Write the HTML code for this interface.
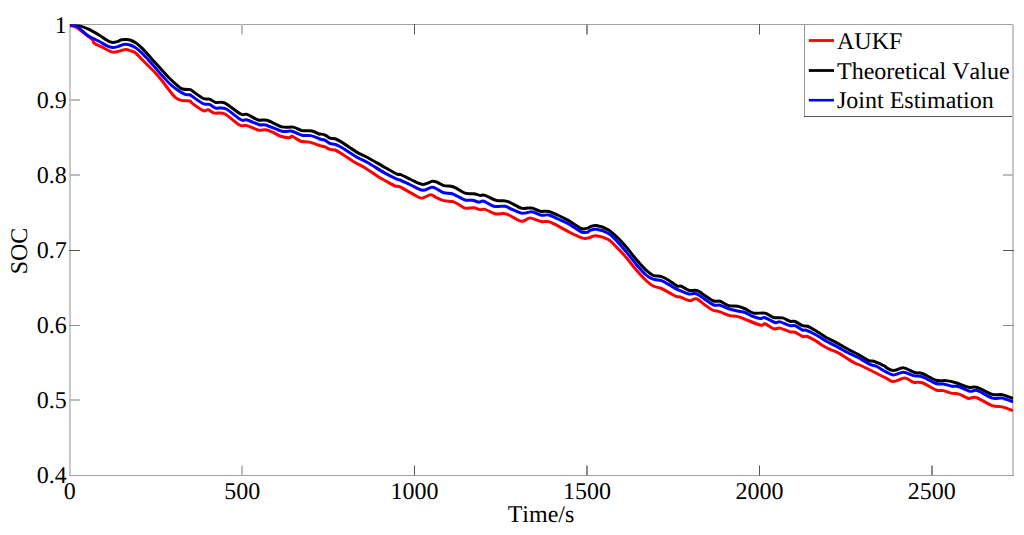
<!DOCTYPE html>
<html><head><meta charset="utf-8"><style>
html,body{margin:0;padding:0;background:#fff;}
body{width:1024px;height:535px;overflow:hidden;}
svg{display:block;}
text{font-family:"Liberation Serif",serif;font-size:24px;fill:#000;font-kerning:none;text-rendering:geometricPrecision;}
</style></head><body>
<svg width="1024" height="535" viewBox="0 0 1024 535">
<rect x="0" y="0" width="1024" height="535" fill="#fff"/>
<!-- axes box -->
<rect x="69" y="24" width="2" height="452" fill="#c8c8c8"/>
<rect x="1012" y="24" width="2" height="452" fill="#c8c8c8"/>
<rect x="69" y="24" width="945" height="1" fill="#a0a0a0"/>
<rect x="69" y="475" width="945" height="1" fill="#a0a0a0"/>
<rect x="241" y="465.5" width="2" height="10" fill="#bcbcbc"/><rect x="241" y="24" width="2" height="10.5" fill="#bcbcbc"/><rect x="414" y="465.5" width="1" height="10" fill="#555"/><rect x="414" y="24" width="1" height="10.5" fill="#555"/><rect x="586" y="465.5" width="2" height="10" fill="#8c8c8c"/><rect x="586" y="24" width="2" height="10.5" fill="#8c8c8c"/><rect x="759" y="465.5" width="1" height="10" fill="#555"/><rect x="759" y="24" width="1" height="10.5" fill="#555"/><rect x="931" y="465.5" width="2" height="10" fill="#8c8c8c"/><rect x="931" y="24" width="2" height="10.5" fill="#8c8c8c"/><rect x="69" y="99" width="11" height="2" fill="#bcbcbc"/><rect x="1003" y="99" width="11" height="2" fill="#bcbcbc"/><rect x="69" y="174" width="11" height="2" fill="#bcbcbc"/><rect x="1003" y="174" width="11" height="2" fill="#bcbcbc"/><rect x="69" y="250" width="11" height="1" fill="#555"/><rect x="1003" y="250" width="11" height="1" fill="#555"/><rect x="69" y="325" width="11" height="1" fill="#8c8c8c"/><rect x="1003" y="325" width="11" height="1" fill="#8c8c8c"/><rect x="69" y="399" width="11" height="2" fill="#bcbcbc"/><rect x="1003" y="399" width="11" height="2" fill="#bcbcbc"/>
<defs><clipPath id="c"><rect x="70" y="24.5" width="943" height="451"/></clipPath></defs>
<g fill="none" stroke-width="3.0" stroke-linejoin="round" stroke-linecap="butt" clip-path="url(#c)">
<path stroke="#ff0000" d="M70.00,25.60C71.08,25.92 73.75,25.93 76.50,27.50C79.25,29.07 83.79,32.92 86.50,35.00C89.21,37.08 91.50,38.67 92.75,40.00C94.00,41.33 92.54,41.85 94.00,43.00C95.46,44.15 98.79,45.52 101.50,46.90C104.21,48.27 107.96,50.38 110.25,51.25C112.54,52.12 112.75,52.38 115.25,52.10C117.75,51.83 122.79,49.85 125.25,49.60C127.71,49.35 128.38,50.14 130.00,50.62C131.62,51.11 132.92,50.94 135.00,52.50C137.08,54.06 140.21,57.71 142.50,60.00C144.79,62.29 146.67,64.17 148.75,66.25C150.83,68.33 152.71,70.00 155.00,72.50C157.29,75.00 160.00,78.12 162.50,81.25C165.00,84.38 167.71,88.44 170.00,91.25C172.29,94.06 174.17,96.56 176.25,98.12C178.33,99.69 180.21,100.15 182.50,100.62C184.79,101.10 188.42,100.58 190.00,101.00C191.58,101.42 189.79,101.52 192.00,103.12C194.21,104.73 200.54,109.52 203.25,110.62C205.96,111.73 206.38,109.33 208.25,109.75C210.12,110.17 211.79,112.46 214.50,113.12C217.21,113.79 220.33,111.77 224.50,113.75C228.67,115.73 235.75,123.02 239.50,125.00C243.25,126.98 243.88,124.79 247.00,125.62C250.12,126.46 255.12,129.31 258.25,130.00C261.38,130.69 263.25,129.33 265.75,129.75C268.25,130.17 270.75,131.42 273.25,132.50C275.75,133.58 278.04,135.38 280.75,136.25C283.46,137.12 287.62,137.75 289.50,137.75C291.38,137.75 290.12,135.67 292.00,136.25C293.88,136.83 297.83,140.27 300.75,141.25C303.67,142.23 306.58,141.50 309.50,142.12C312.42,142.75 316.50,144.42 318.25,145.00C320.00,145.58 318.88,145.31 320.00,145.62C321.12,145.94 323.33,146.25 325.00,146.88C326.67,147.50 328.33,148.85 330.00,149.38C331.67,149.90 333.12,149.31 335.00,150.00C336.88,150.69 337.92,151.42 341.25,153.50C344.58,155.58 351.67,160.48 355.00,162.50C358.33,164.52 359.17,164.48 361.25,165.62C363.33,166.77 364.79,167.60 367.50,169.38C370.21,171.15 374.38,174.27 377.50,176.25C380.62,178.23 383.33,179.62 386.25,181.25C389.17,182.88 392.71,185.06 395.00,186.00C397.29,186.94 397.29,185.69 400.00,186.88C402.71,188.06 407.71,191.25 411.25,193.12C414.79,195.00 418.02,197.85 421.25,198.12C424.48,198.40 428.12,194.85 430.62,194.75C433.12,194.65 434.06,196.52 436.25,197.50C438.44,198.48 441.04,199.96 443.75,200.62C446.46,201.29 450.21,200.98 452.50,201.50C454.79,202.02 455.42,202.65 457.50,203.75C459.58,204.85 462.29,207.46 465.00,208.12C467.71,208.79 471.25,207.50 473.75,207.75C476.25,208.00 478.12,209.35 480.00,209.62C481.88,209.90 482.50,208.69 485.00,209.38C487.50,210.06 491.88,213.06 495.00,213.75C498.12,214.44 501.46,213.29 503.75,213.50C506.04,213.71 505.83,213.71 508.75,215.00C511.67,216.29 518.08,220.62 521.25,221.25C524.42,221.88 526.08,219.27 527.75,218.75C529.42,218.23 529.00,217.67 531.25,218.12C533.50,218.58 538.33,220.92 541.25,221.50C544.17,222.08 546.04,220.94 548.75,221.62C551.46,222.31 553.96,223.81 557.50,225.62C561.04,227.44 565.83,230.42 570.00,232.50C574.17,234.58 579.58,237.19 582.50,238.12C585.42,239.06 586.25,238.24 587.50,238.12C588.75,238.01 588.53,237.83 590.00,237.43C591.47,237.03 593.27,235.40 596.31,235.75C599.35,236.10 604.60,237.38 608.22,239.53C611.85,241.68 615.00,245.61 618.04,248.64C621.07,251.68 623.40,254.20 626.45,257.76C629.49,261.32 633.02,266.21 636.30,270.00C639.58,273.79 643.30,277.83 646.10,280.50C648.90,283.17 650.53,284.67 653.10,286.00C655.67,287.33 658.68,287.31 661.50,288.50C664.32,289.69 667.54,291.79 670.00,293.12C672.46,294.46 674.58,295.88 676.25,296.50C677.92,297.12 677.71,296.19 680.00,296.88C682.29,297.56 687.29,300.31 690.00,300.62C692.71,300.94 693.75,298.02 696.25,298.75C698.75,299.48 702.29,303.12 705.00,305.00C707.71,306.88 710.00,308.85 712.50,310.00C715.00,311.15 717.08,310.94 720.00,311.88C722.92,312.81 726.88,314.79 730.00,315.62C733.12,316.46 733.75,315.31 738.75,316.88C743.75,318.44 755.62,323.85 760.00,325.00C764.38,326.15 762.71,323.12 765.00,323.75C767.29,324.38 771.25,328.02 773.75,328.75C776.25,329.48 777.29,327.60 780.00,328.12C782.71,328.65 787.50,331.19 790.00,331.88C792.50,332.56 792.92,331.48 795.00,332.25C797.08,333.02 800.42,335.79 802.50,336.50C804.58,337.21 805.00,335.60 807.50,336.50C810.00,337.40 815.21,340.50 817.50,341.88C819.79,343.25 819.17,343.50 821.25,344.75C823.33,346.00 827.08,347.98 830.00,349.38C832.92,350.77 835.83,351.56 838.75,353.12C841.67,354.69 844.79,357.08 847.50,358.75C850.21,360.42 852.50,361.88 855.00,363.12C857.50,364.38 857.33,363.75 862.50,366.25C867.67,368.75 880.83,375.58 886.00,378.12C891.17,380.67 890.38,381.50 893.50,381.50C896.62,381.50 901.42,378.00 904.75,378.12C908.08,378.25 910.58,381.48 913.50,382.25C916.42,383.02 918.50,381.46 922.25,382.75C926.00,384.04 932.46,388.69 936.00,390.00C939.54,391.31 941.00,390.10 943.50,390.62C946.00,391.15 948.29,392.50 951.00,393.12C953.71,393.75 956.83,393.48 959.75,394.38C962.67,395.27 965.79,397.98 968.50,398.50C971.21,399.02 972.04,396.31 976.00,397.50C979.96,398.69 987.88,404.06 992.25,405.62C996.62,407.19 998.79,406.02 1002.25,406.88C1005.71,407.73 1011.21,410.10 1013.00,410.75"/>
<path stroke="#000000" d="M70.00,25.00C71.50,25.10 75.83,24.87 79.00,25.60C82.17,26.33 85.67,27.83 89.00,29.40C92.33,30.97 96.08,33.23 99.00,35.00C101.92,36.77 104.42,38.79 106.50,40.00C108.58,41.21 109.83,41.93 111.50,42.25C113.17,42.57 114.83,42.32 116.50,41.90C118.17,41.48 119.83,40.17 121.50,39.75C123.17,39.33 125.08,39.36 126.50,39.40C127.92,39.44 128.38,39.38 130.00,40.00C131.62,40.62 134.17,41.69 136.25,43.12C138.33,44.56 140.41,46.54 142.50,48.60C144.59,50.66 146.72,53.18 148.80,55.50C150.88,57.82 152.72,59.97 155.00,62.50C157.28,65.03 160.00,67.98 162.50,70.70C165.00,73.42 167.50,76.31 170.00,78.80C172.50,81.29 175.42,83.92 177.50,85.62C179.58,87.33 180.42,88.33 182.50,89.00C184.58,89.67 188.67,89.51 190.00,89.62C191.33,89.74 190.17,89.53 190.50,89.70C190.83,89.87 189.88,89.16 192.00,90.62C194.12,92.09 200.33,97.08 203.25,98.50C206.17,99.92 207.42,98.46 209.50,99.12C211.58,99.79 213.25,101.88 215.75,102.50C218.25,103.12 220.33,100.96 224.50,102.88C228.67,104.79 237.00,112.08 240.75,114.00C244.50,115.92 244.08,113.38 247.00,114.38C249.92,115.38 254.92,119.02 258.25,120.00C261.58,120.98 263.04,119.10 267.00,120.25C270.96,121.40 277.62,125.73 282.00,126.88C286.38,128.02 289.92,126.50 293.25,127.12C296.58,127.75 298.88,129.98 302.00,130.62C305.12,131.27 309.19,130.44 312.00,131.00C314.81,131.56 317.54,133.50 318.88,134.00C320.21,134.50 318.98,133.83 320.00,134.00C321.02,134.17 323.33,134.31 325.00,135.00C326.67,135.69 328.33,137.50 330.00,138.12C331.67,138.75 333.12,138.12 335.00,138.75C336.88,139.38 337.71,139.69 341.25,141.88C344.79,144.06 351.88,149.27 356.25,151.88C360.62,154.48 362.71,154.90 367.50,157.50C372.29,160.10 380.00,164.69 385.00,167.50C390.00,170.31 395.00,173.23 397.50,174.38C400.00,175.52 397.71,173.48 400.00,174.38C402.29,175.27 407.50,178.08 411.25,179.75C415.00,181.42 418.96,184.12 422.50,184.38C426.04,184.62 430.00,181.56 432.50,181.25C435.00,180.94 435.62,181.77 437.50,182.50C439.38,183.23 441.46,185.00 443.75,185.62C446.04,186.25 449.17,185.83 451.25,186.25C453.33,186.67 453.96,186.98 456.25,188.12C458.54,189.27 462.08,192.19 465.00,193.12C467.92,194.06 471.25,193.38 473.75,193.75C476.25,194.12 478.12,195.10 480.00,195.38C481.88,195.65 482.29,194.54 485.00,195.38C487.71,196.21 492.92,199.46 496.25,200.38C499.58,201.29 502.71,200.52 505.00,200.88C507.29,201.23 507.29,201.29 510.00,202.50C512.71,203.71 518.29,207.19 521.25,208.12C524.21,209.06 525.88,208.12 527.75,208.12C529.62,208.12 530.46,207.60 532.50,208.12C534.54,208.65 537.29,210.69 540.00,211.25C542.71,211.81 545.83,210.88 548.75,211.50C551.67,212.12 554.17,213.48 557.50,215.00C560.83,216.52 564.79,218.38 568.75,220.62C572.71,222.88 578.12,227.25 581.25,228.50C584.38,229.75 586.04,228.39 587.50,228.12C588.96,227.86 588.53,227.35 590.00,226.92C591.47,226.48 593.27,225.05 596.31,225.51C599.35,225.98 604.60,227.62 608.22,229.72C611.85,231.82 615.00,235.21 618.04,238.13C621.07,241.05 623.40,243.68 626.45,247.24C629.49,250.80 633.02,255.67 636.30,259.50C639.58,263.33 643.30,267.57 646.10,270.20C648.90,272.83 650.52,274.20 653.08,275.28C655.65,276.36 658.93,275.86 661.50,276.68C664.07,277.50 665.93,278.67 668.50,280.19C671.07,281.71 674.79,284.78 676.92,285.79C679.04,286.80 679.28,285.51 681.25,286.25C683.22,286.99 686.04,289.52 688.75,290.25C691.46,290.98 694.79,289.73 697.50,290.62C700.21,291.52 702.29,293.90 705.00,295.62C707.71,297.35 711.25,300.06 713.75,301.00C716.25,301.94 717.50,300.48 720.00,301.25C722.50,302.02 725.83,304.79 728.75,305.62C731.67,306.46 734.79,305.73 737.50,306.25C740.21,306.77 742.29,307.60 745.00,308.75C747.71,309.90 750.42,312.40 753.75,313.12C757.08,313.85 761.67,312.40 765.00,313.12C768.33,313.85 770.83,316.71 773.75,317.50C776.67,318.29 779.79,317.25 782.50,317.88C785.21,318.50 787.92,320.65 790.00,321.25C792.08,321.85 792.92,320.77 795.00,321.50C797.08,322.23 800.42,324.83 802.50,325.62C804.58,326.42 805.42,325.48 807.50,326.25C809.58,327.02 811.88,328.38 815.00,330.25C818.12,332.12 822.92,335.56 826.25,337.50C829.58,339.44 831.46,339.96 835.00,341.88C838.54,343.79 843.75,346.98 847.50,349.00C851.25,351.02 853.96,352.06 857.50,354.00C861.04,355.94 866.04,359.42 868.75,360.62C871.46,361.83 871.04,360.31 873.75,361.25C876.46,362.19 882.96,365.21 885.00,366.25C887.04,367.29 884.58,366.77 886.00,367.50C887.42,368.23 890.58,370.56 893.50,370.62C896.42,370.69 899.96,367.56 903.50,367.88C907.04,368.19 911.62,371.56 914.75,372.50C917.88,373.44 918.71,372.21 922.25,373.50C925.79,374.79 932.04,379.06 936.00,380.25C939.96,381.44 942.67,380.21 946.00,380.62C949.33,381.04 952.25,381.65 956.00,382.75C959.75,383.85 964.96,386.46 968.50,387.25C972.04,388.04 973.29,386.31 977.25,387.50C981.21,388.69 988.08,393.17 992.25,394.38C996.42,395.58 998.79,394.06 1002.25,394.75C1005.71,395.44 1011.21,397.88 1013.00,398.50"/>
<path stroke="#0000ff" d="M70.00,25.25C71.08,25.38 74.38,25.00 76.50,26.00C78.62,27.00 80.67,29.54 82.75,31.25C84.83,32.96 86.29,34.58 89.00,36.25C91.71,37.92 96.08,39.69 99.00,41.25C101.92,42.81 104.21,44.56 106.50,45.60C108.79,46.64 110.88,47.33 112.75,47.50C114.62,47.67 115.88,47.12 117.75,46.60C119.62,46.08 121.96,44.67 124.00,44.40C126.04,44.13 127.96,44.38 130.00,45.00C132.04,45.62 134.17,46.69 136.25,48.12C138.33,49.56 140.41,51.55 142.50,53.60C144.59,55.65 146.72,58.12 148.80,60.40C150.88,62.68 152.72,64.70 155.00,67.30C157.28,69.90 160.00,73.22 162.50,76.00C165.00,78.78 167.50,81.67 170.00,84.00C172.50,86.33 175.00,88.27 177.50,90.00C180.00,91.73 182.92,93.58 185.00,94.38C187.08,95.17 188.83,94.44 190.00,94.75C191.17,95.06 189.79,94.75 192.00,96.25C194.21,97.75 200.33,102.40 203.25,103.75C206.17,105.10 207.42,103.65 209.50,104.38C211.58,105.10 213.04,107.40 215.75,108.12C218.46,108.85 221.58,106.81 225.75,108.75C229.92,110.69 237.21,117.88 240.75,119.75C244.29,121.62 243.88,119.17 247.00,120.00C250.12,120.83 256.38,123.92 259.50,124.75C262.62,125.58 262.00,123.92 265.75,125.00C269.50,126.08 277.62,130.21 282.00,131.25C286.38,132.29 288.67,130.58 292.00,131.25C295.33,131.92 298.88,134.52 302.00,135.25C305.12,135.98 307.83,135.04 310.75,135.62C313.67,136.21 317.96,138.12 319.50,138.75C321.04,139.38 319.08,139.12 320.00,139.38C320.92,139.62 323.33,139.56 325.00,140.25C326.67,140.94 328.33,142.81 330.00,143.50C331.67,144.19 333.12,143.75 335.00,144.38C336.88,145.00 337.71,145.17 341.25,147.25C344.79,149.33 351.88,154.33 356.25,156.88C360.62,159.42 362.71,159.79 367.50,162.50C372.29,165.21 380.00,170.31 385.00,173.12C390.00,175.94 395.00,178.23 397.50,179.38C400.00,180.52 397.71,179.02 400.00,180.00C402.29,180.98 407.50,183.54 411.25,185.25C415.00,186.96 419.06,189.92 422.50,190.25C425.94,190.58 429.38,187.40 431.88,187.25C434.38,187.10 435.52,188.46 437.50,189.38C439.48,190.29 441.46,192.06 443.75,192.75C446.04,193.44 448.96,192.92 451.25,193.50C453.54,194.08 455.21,195.17 457.50,196.25C459.79,197.33 462.50,199.33 465.00,200.00C467.50,200.67 470.21,199.90 472.50,200.25C474.79,200.60 476.88,201.96 478.75,202.12C480.62,202.29 481.25,200.56 483.75,201.25C486.25,201.94 490.21,205.42 493.75,206.25C497.29,207.08 502.29,205.88 505.00,206.25C507.71,206.62 507.29,207.35 510.00,208.50C512.71,209.65 518.29,212.46 521.25,213.12C524.21,213.79 525.88,212.71 527.75,212.50C529.62,212.29 530.25,211.42 532.50,211.88C534.75,212.33 538.54,214.73 541.25,215.25C543.96,215.77 546.04,214.42 548.75,215.00C551.46,215.58 554.17,217.25 557.50,218.75C560.83,220.25 564.79,221.81 568.75,224.00C572.71,226.19 578.12,230.50 581.25,231.88C584.38,233.25 586.04,232.49 587.50,232.25C588.96,232.01 588.53,230.91 590.00,230.42C591.47,229.93 593.27,228.83 596.31,229.30C599.35,229.77 604.60,231.05 608.22,233.22C611.85,235.40 615.00,239.18 618.04,242.34C621.07,245.49 623.40,248.47 626.45,252.15C629.49,255.83 633.02,260.59 636.30,264.40C639.58,268.21 643.30,272.53 646.10,275.00C648.90,277.47 650.52,278.27 653.08,279.21C655.65,280.14 658.93,279.74 661.50,280.61C664.07,281.47 666.17,283.06 668.50,284.39C670.84,285.72 673.60,287.56 675.51,288.60C677.43,289.64 677.79,289.72 680.00,290.62C682.21,291.53 686.04,293.48 688.75,294.00C691.46,294.52 693.54,292.85 696.25,293.75C698.96,294.65 702.08,297.50 705.00,299.38C707.92,301.25 711.25,304.02 713.75,305.00C716.25,305.98 717.50,304.62 720.00,305.25C722.50,305.88 725.83,307.79 728.75,308.75C731.67,309.71 734.79,310.38 737.50,311.00C740.21,311.62 742.50,311.62 745.00,312.50C747.50,313.38 750.00,315.25 752.50,316.25C755.00,317.25 757.92,318.25 760.00,318.50C762.08,318.75 762.50,317.08 765.00,317.75C767.50,318.42 772.50,321.81 775.00,322.50C777.50,323.19 777.50,321.35 780.00,321.88C782.50,322.40 787.50,325.00 790.00,325.62C792.50,326.25 792.92,324.90 795.00,325.62C797.08,326.35 800.62,329.23 802.50,330.00C804.38,330.77 803.96,329.42 806.25,330.25C808.54,331.08 812.92,333.17 816.25,335.00C819.58,336.83 822.71,339.27 826.25,341.25C829.79,343.23 833.96,345.00 837.50,346.88C841.04,348.75 844.17,350.77 847.50,352.50C850.83,354.23 853.75,355.27 857.50,357.25C861.25,359.23 866.88,362.88 870.00,364.38C873.12,365.88 873.58,365.00 876.25,366.25C878.92,367.50 883.12,370.42 886.00,371.88C888.88,373.33 890.58,374.94 893.50,375.00C896.42,375.06 900.17,372.15 903.50,372.25C906.83,372.35 910.38,374.85 913.50,375.62C916.62,376.40 918.50,375.56 922.25,376.88C926.00,378.19 932.46,382.31 936.00,383.50C939.54,384.69 940.79,383.54 943.50,384.00C946.21,384.46 949.75,385.83 952.25,386.25C954.75,386.67 955.58,385.67 958.50,386.50C961.42,387.33 966.62,390.56 969.75,391.25C972.88,391.94 973.50,389.48 977.25,390.62C981.00,391.77 988.08,396.88 992.25,398.12C996.42,399.38 998.79,397.50 1002.25,398.12C1005.71,398.75 1011.21,401.25 1013.00,401.88"/>
</g>
<text x="66.8" y="32.5" text-anchor="end">1</text><text x="66.8" y="107.6" text-anchor="end">0.9</text><text x="66.8" y="182.7" text-anchor="end">0.8</text><text x="66.8" y="257.8" text-anchor="end">0.7</text><text x="66.8" y="332.8" text-anchor="end">0.6</text><text x="66.8" y="407.9" text-anchor="end">0.5</text><text x="66.8" y="483.0" text-anchor="end">0.4</text><text x="69.8" y="499.2" text-anchor="middle">0</text><text x="242.2" y="499.2" text-anchor="middle">500</text><text x="414.6" y="499.2" text-anchor="middle">1000</text><text x="587.0" y="499.2" text-anchor="middle">1500</text><text x="759.4" y="499.2" text-anchor="middle">2000</text><text x="931.8" y="499.2" text-anchor="middle">2500</text>
<text x="541" y="522" text-anchor="middle">Time/s</text>
<text transform="translate(27,251) rotate(-90)" text-anchor="middle">SOC</text>
<!-- legend -->
<rect x="804" y="24" width="210" height="93" fill="#fff"/>
<rect x="804" y="24" width="1" height="93" fill="#999"/>
<rect x="804" y="116" width="210" height="1" fill="#555"/>
<rect x="804" y="24" width="210" height="1" fill="#a0a0a0"/>
<rect x="1012" y="24" width="2" height="93" fill="#c8c8c8"/>
<line x1="808.8" y1="40.5" x2="834" y2="40.5" stroke="#ff0000" stroke-width="2.8"/>
<line x1="808.8" y1="70.5" x2="834" y2="70.5" stroke="#000" stroke-width="2.8"/>
<line x1="808.8" y1="100.2" x2="834" y2="100.2" stroke="#0000ff" stroke-width="2.6"/>
<text x="837" y="49">AUKF</text>
<text x="837" y="79">Theoretical Value</text>
<text x="837" y="108">Joint Estimation</text>
</svg>
</body></html>
